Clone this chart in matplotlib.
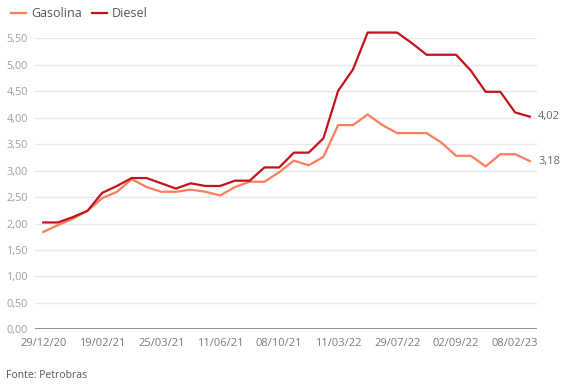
import matplotlib.pyplot as plt

plt.rcParams['font.family'] = ['Open Sans', 'DejaVu Sans']

# price per litre (R$), one value per Petrobras price change
gasolina = [1.84, 1.97, 2.09, 2.24, 2.48, 2.60, 2.84, 2.69, 2.60, 2.60, 2.64, 2.60,
            2.53, 2.69, 2.79, 2.79, 2.97, 3.19, 3.10, 3.26, 3.86, 3.86, 4.06, 3.86,
            3.71, 3.71, 3.71, 3.53, 3.28, 3.28, 3.08, 3.31, 3.31, 3.18]
diesel = [2.02, 2.02, 2.12, 2.24, 2.58, 2.71, 2.86, 2.86, 2.76, 2.66, 2.76, 2.71,
          2.71, 2.81, 2.81, 3.06, 3.06, 3.34, 3.34, 3.61, 4.51, 4.91, 5.61, 5.61,
          5.61, 5.41, 5.19, 5.19, 5.19, 4.89, 4.49, 4.49, 4.10, 4.02]
tick_labels = ['29/12/20', '19/02/21', '25/03/21', '11/06/21', '08/10/21',
               '11/03/22', '29/07/22', '02/09/22', '08/02/23']
yticks = [0, 0.5, 1, 1.5, 2, 2.5, 3, 3.5, 4, 4.5, 5, 5.5]

c_gas = '#ff7c5c'
c_die = '#c4121c'

fig = plt.figure(figsize=(5.67, 3.90), dpi=100)
ax = fig.add_axes([0.0617, 0.1556, 0.885, 0.746])

x = list(range(len(diesel)))
ax.plot(x, gasolina, color=c_gas, lw=1.6, label='Gasolina', clip_on=False)
ax.plot(x, diesel, color=c_die, lw=1.6, label='Diesel', clip_on=False)

ax.set_xlim(-0.56, len(x) - 1 + 0.47)
ax.set_ylim(0, 5.5)

# grid
for v in yticks[1:]:
    ax.axhline(v, color='#e8e8e8', lw=1, zorder=0)
ax.axhline(0, color='#707070', lw=1.1, zorder=1)

for s in ax.spines.values():
    s.set_visible(False)

ax.set_yticks(yticks)
ax.set_yticklabels([f'{v:.2f}'.replace('.', ',') for v in yticks])
ax.set_xticks(range(0, len(x), 4))
ax.set_xticklabels(tick_labels)
ax.tick_params(axis='y', length=0, pad=5, labelsize=7.8, labelcolor='#a0a0a0')
ax.tick_params(axis='x', length=0, pad=6.5, labelsize=8, labelcolor='#7a7a7a')

# end labels
for series in (diesel, gasolina):
    ax.annotate(f'{series[-1]:.2f}'.replace('.', ','), (x[-1], series[-1]),
                xytext=(6, 0), textcoords='offset points', va='center', ha='left',
                fontsize=8, color='#666666', annotation_clip=False)

fig.legend(loc='upper left', bbox_to_anchor=(0.0, 1.01), ncol=2, frameon=False,
           handlelength=1.2, handletextpad=0.4, columnspacing=0.8,
           fontsize=9, labelcolor='#555555')

fig.text(0.011, 0.032, 'Fonte: Petrobras', fontsize=7.5, color='#555555')

fig.savefig('out.png', dpi=100)
